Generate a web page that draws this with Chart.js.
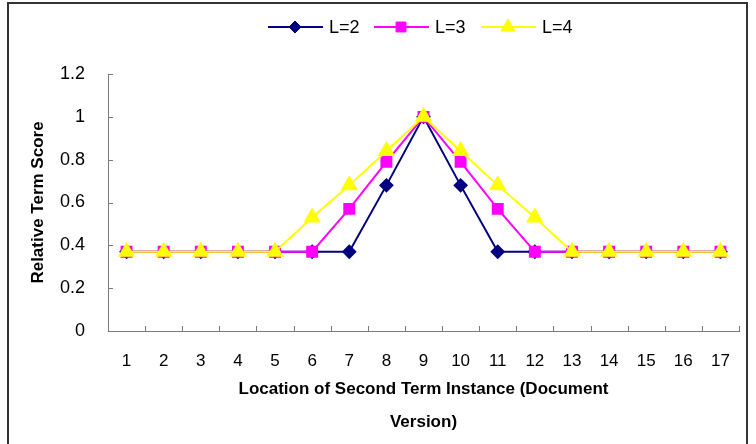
<!DOCTYPE html>
<html>
<head>
<meta charset="utf-8">
<script src="https://cdn.jsdelivr.net/npm/chart.js@4.4.1/dist/chart.umd.min.js"></script>
<style>
  body { margin: 0; background: #fff; }
  #wrap { position: relative; width: 756px; height: 444px; overflow: hidden; }
  #frame { position: absolute; left: 7px; top: 2px; width: 741px; height: 460px; border: 2px solid #333; box-sizing: border-box; }
  canvas { position: absolute; left: 0; top: 0; }
</style>
</head>
<body>
<div id="wrap">
  <div id="frame"></div>
  <canvas id="chart" width="756" height="444"></canvas>
</div>
<script>
// Datos del gráfico
const categorias = ['1','2','3','4','5','6','7','8','9','10','11','12','13','14','15','16','17'];
const serieL2 = [0.37,0.37,0.37,0.37,0.37,0.37,0.37,0.68,1,0.68,0.37,0.37,0.37,0.37,0.37,0.37,0.37];
const serieL3 = [0.37,0.37,0.37,0.37,0.37,0.37,0.57,0.79,1,0.79,0.57,0.37,0.37,0.37,0.37,0.37,0.37];
const serieL4 = [0.37,0.37,0.37,0.37,0.37,0.53,0.68,0.84,1,0.84,0.68,0.53,0.37,0.37,0.37,0.37,0.37];
const etiquetas = ['L=2', 'L=3', 'L=4'];

const fuente = "'Liberation Sans', Arial, sans-serif";
const colorEje = '#7a7a7a';

// Leyenda dibujada a mano: línea + marcador + texto
const leyendaPlugin = {
    id: 'leyendaLinea',
    afterDraw(chart) {
        const ctx = chart.ctx;
        const y = 27;
        const posiciones = [268, 374, 481];
        ctx.save();
        chart.data.datasets.forEach((ds, i) => {
            const x0 = posiciones[i];
            ctx.strokeStyle = ds.borderColor;
            ctx.fillStyle = ds.backgroundColor;
            ctx.lineWidth = 2;
            ctx.beginPath();
            ctx.moveTo(x0, y);
            ctx.lineTo(x0 + 55, y);
            ctx.stroke();
            ctx.lineWidth = 1;
            Chart.helpers.drawPoint(ctx, {
                pointStyle: ds.pointStyle,
                radius: ds.pointRadius,
                rotation: 0,
                borderWidth: 1
            }, x0 + 27, y);
            ctx.fillStyle = '#000';
            ctx.font = '18px ' + fuente;
            ctx.textBaseline = 'middle';
            ctx.textAlign = 'left';
            ctx.fillText(ds.label, x0 + 61, y + 1);
        });
        ctx.restore();
    }
};

// Marcas de los ejes hacia adentro
const marcasPlugin = {
    id: 'marcasDentro',
    afterDatasetsDraw(chart) {
        const ctx = chart.ctx;
        const xs = chart.scales.x;
        const ys = chart.scales.y;
        const area = chart.chartArea;
        ctx.save();
        ctx.strokeStyle = colorEje;
        ctx.lineWidth = 1;
        ctx.beginPath();
        for (let i = 0; i <= categorias.length; i++) {
            const px = Math.round(xs.getPixelForValue(i - 0.5)) + 0.5;
            ctx.moveTo(px, area.bottom);
            ctx.lineTo(px, area.bottom - 5);
        }
        ys.ticks.forEach((t) => {
            const py = Math.round(ys.getPixelForValue(t.value)) + 0.5;
            ctx.moveTo(area.left, py);
            ctx.lineTo(area.left + 5, py);
        });
        ctx.stroke();
        ctx.restore();
    }
};

function crearSerie(label, data, color, estilo, radio, orden) {
    return {
        label: label,
        data: data,
        borderColor: color,
        backgroundColor: color,
        pointBackgroundColor: color,
        pointBorderColor: color,
        borderWidth: 2,
        pointStyle: estilo,
        pointRadius: radio,
        pointHoverRadius: radio,
        tension: 0,
        order: orden
    };
}

const ctx = document.getElementById('chart').getContext('2d');
new Chart(ctx, {
    type: 'line',
    data: {
        labels: categorias,
        datasets: [
            crearSerie(etiquetas[0], serieL2, '#000080', 'rectRot', 6, 2),
            crearSerie(etiquetas[1], serieL3, '#FF00FF', 'rect', 7, 1),
            crearSerie(etiquetas[2], serieL4, '#FFFF00', 'triangle', 8, 0)
        ]
    },
    options: {
        responsive: false,
        animation: false,
        layout: { padding: { left: 8, right: 17, top: 74, bottom: 0 } },
        plugins: {
            legend: { display: false },
            tooltip: { enabled: false }
        },
        scales: {
            x: {
                type: 'category',
                offset: true,
                grid: { display: false, offset: true },
                border: { display: true, color: colorEje, width: 1 },
                ticks: { color: '#000', font: { family: fuente, size: 17 }, padding: 12, maxRotation: 0, autoSkip: false },
                title: {
                    display: true,
                    text: ['Location of Second Term Instance (Document', 'Version)'],
                    color: '#000',
                    font: { family: fuente, size: 17, weight: 'bold', lineHeight: 1.9 },
                    padding: { top: 0, bottom: 6 }
                },
                afterFit(scale) { scale.height = 113; }
            },
            y: {
                min: 0,
                max: 1.2,
                ticks: {
                    stepSize: 0.2,
                    color: '#000',
                    font: { family: fuente, size: 18 },
                    padding: 15,
                    callback: (v) => String(parseFloat(Number(v).toFixed(1)))
                },
                grid: { display: false },
                border: { display: true, color: colorEje, width: 1 },
                title: {
                    display: true,
                    text: 'Relative Term Score',
                    color: '#000',
                    font: { family: fuente, size: 17, weight: 'bold', lineHeight: 1.2 },
                    padding: { top: 20, bottom: 0 }
                },
                afterFit(scale) { scale.width = 100; }
            }
        }
    },
    plugins: [leyendaPlugin, marcasPlugin]
});
</script>
</body>
</html>
